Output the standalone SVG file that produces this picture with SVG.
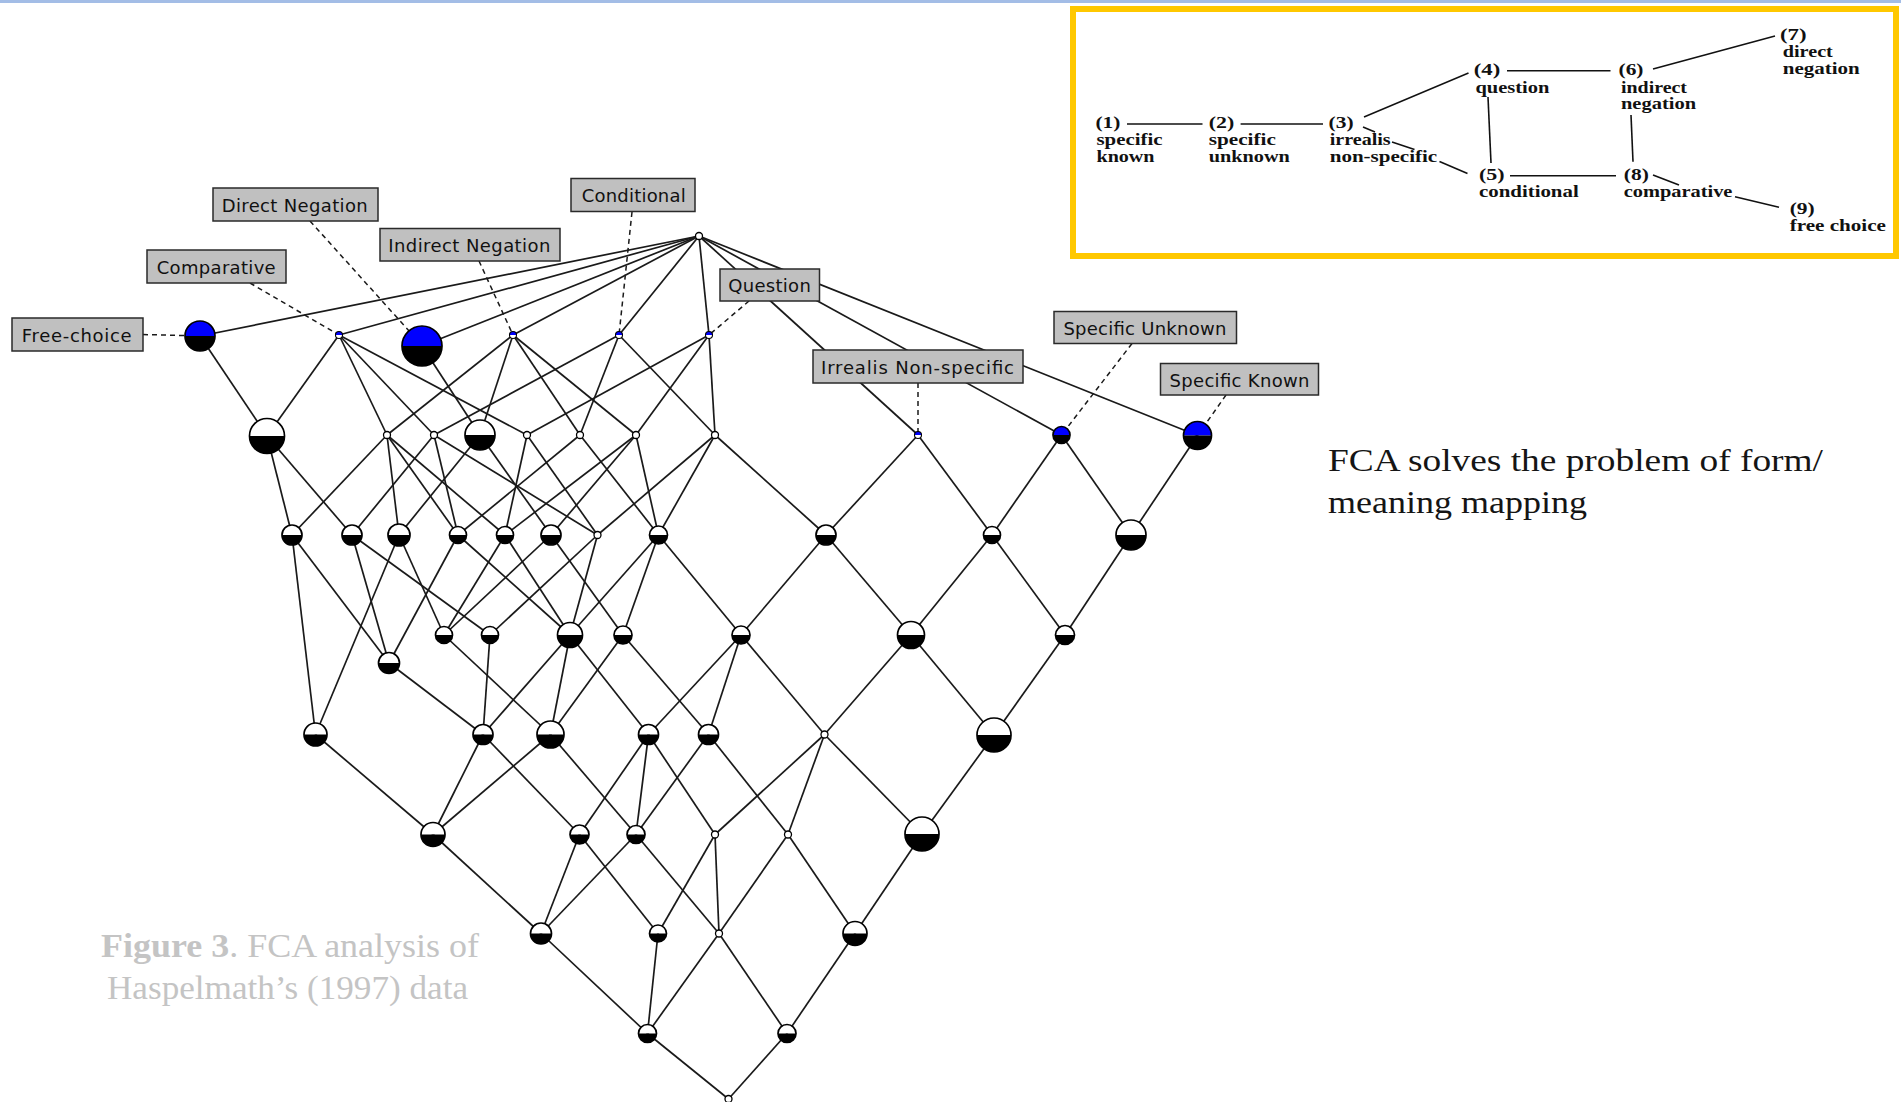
<svg xmlns="http://www.w3.org/2000/svg" width="1901" height="1102" viewBox="0 0 1901 1102">
<defs>
<style>
.e{stroke:#1a1a1a;stroke-width:1.7;fill:none}
.dl{stroke:#1a1a1a;stroke-width:1.5;stroke-dasharray:5 4;fill:none}
.lb rect{fill:#c0c0c0;stroke:#2a2a2a;stroke-width:1.5}
.lb text{font-family:"DejaVu Sans",Verdana,sans-serif;font-size:18px;fill:#111}
.w{fill:#fff}
.k{fill:#000}
.bl{fill:#0000ff}
.o{fill:none;stroke:#000;stroke-width:1.7}
.tw{fill:#fff;stroke:#000;stroke-width:1.3}
.it{font-family:"Liberation Serif","Times New Roman",serif;font-weight:bold;font-size:16px;fill:#111}
.il{stroke:#111;stroke-width:1.6;fill:none}
.cap{font-family:"Liberation Serif","Times New Roman",serif;font-size:34px;fill:#c4c4c4}
.side{font-family:"Liberation Serif","Times New Roman",serif;font-size:32px;fill:#151515}
</style>
</defs>
<rect x="0" y="0" width="1901" height="1102" fill="#fff"/>
<rect x="0" y="0" width="1901" height="3" fill="#a3bde6"/>

<g id="connectors">
<line class="e" x1="699" y1="236" x2="200" y2="336"/>
<line class="e" x1="699" y1="236" x2="339" y2="335"/>
<line class="e" x1="699" y1="236" x2="422" y2="346"/>
<line class="e" x1="699" y1="236" x2="513" y2="335"/>
<line class="e" x1="699" y1="236" x2="619" y2="335"/>
<line class="e" x1="699" y1="236" x2="709" y2="335"/>
<line class="e" x1="699" y1="236" x2="918" y2="435"/>
<line class="e" x1="699" y1="236" x2="1061.5" y2="435"/>
<line class="e" x1="699" y1="236" x2="1197.5" y2="435.5"/>
<line class="e" x1="200" y1="336" x2="267" y2="436"/>
<line class="e" x1="339" y1="335" x2="267" y2="436"/>
<line class="e" x1="339" y1="335" x2="387" y2="435"/>
<line class="e" x1="339" y1="335" x2="434" y2="435"/>
<line class="e" x1="339" y1="335" x2="527" y2="435"/>
<line class="e" x1="422" y1="346" x2="480" y2="435"/>
<line class="e" x1="513" y1="335" x2="387" y2="435"/>
<line class="e" x1="513" y1="335" x2="480" y2="435"/>
<line class="e" x1="513" y1="335" x2="580" y2="435"/>
<line class="e" x1="513" y1="335" x2="636" y2="435"/>
<line class="e" x1="619" y1="335" x2="434" y2="435"/>
<line class="e" x1="619" y1="335" x2="580" y2="435"/>
<line class="e" x1="619" y1="335" x2="715" y2="435"/>
<line class="e" x1="709" y1="335" x2="527" y2="435"/>
<line class="e" x1="709" y1="335" x2="636" y2="435"/>
<line class="e" x1="709" y1="335" x2="715" y2="435"/>
<line class="e" x1="267" y1="436" x2="292" y2="535"/>
<line class="e" x1="267" y1="436" x2="352" y2="535"/>
<line class="e" x1="387" y1="435" x2="292" y2="535"/>
<line class="e" x1="387" y1="435" x2="399" y2="535"/>
<line class="e" x1="387" y1="435" x2="458" y2="535"/>
<line class="e" x1="387" y1="435" x2="505" y2="535"/>
<line class="e" x1="434" y1="435" x2="352" y2="535"/>
<line class="e" x1="434" y1="435" x2="458" y2="535"/>
<line class="e" x1="434" y1="435" x2="597.5" y2="535"/>
<line class="e" x1="480" y1="435" x2="399" y2="535"/>
<line class="e" x1="480" y1="435" x2="551" y2="535"/>
<line class="e" x1="527" y1="435" x2="505" y2="535"/>
<line class="e" x1="527" y1="435" x2="597.5" y2="535"/>
<line class="e" x1="580" y1="435" x2="458" y2="535"/>
<line class="e" x1="580" y1="435" x2="658.5" y2="535"/>
<line class="e" x1="636" y1="435" x2="505" y2="535"/>
<line class="e" x1="636" y1="435" x2="551" y2="535"/>
<line class="e" x1="636" y1="435" x2="658.5" y2="535"/>
<line class="e" x1="715" y1="435" x2="597.5" y2="535"/>
<line class="e" x1="715" y1="435" x2="658.5" y2="535"/>
<line class="e" x1="715" y1="435" x2="826" y2="535"/>
<line class="e" x1="918" y1="435" x2="826" y2="535"/>
<line class="e" x1="918" y1="435" x2="992" y2="535"/>
<line class="e" x1="1061.5" y1="435" x2="992" y2="535"/>
<line class="e" x1="1061.5" y1="435" x2="1131" y2="535"/>
<line class="e" x1="1197.5" y1="435.5" x2="1131" y2="535"/>
<line class="e" x1="292" y1="535" x2="315.5" y2="734.5"/>
<line class="e" x1="292" y1="535" x2="389" y2="663"/>
<line class="e" x1="352" y1="535" x2="389" y2="663"/>
<line class="e" x1="352" y1="535" x2="490" y2="635"/>
<line class="e" x1="399" y1="535" x2="315.5" y2="734.5"/>
<line class="e" x1="399" y1="535" x2="444" y2="635"/>
<line class="e" x1="458" y1="535" x2="389" y2="663"/>
<line class="e" x1="458" y1="535" x2="570" y2="635"/>
<line class="e" x1="505" y1="535" x2="444" y2="635"/>
<line class="e" x1="505" y1="535" x2="570" y2="635"/>
<line class="e" x1="551" y1="535" x2="444" y2="635"/>
<line class="e" x1="551" y1="535" x2="623" y2="635"/>
<line class="e" x1="597.5" y1="535" x2="490" y2="635"/>
<line class="e" x1="597.5" y1="535" x2="570" y2="635"/>
<line class="e" x1="658.5" y1="535" x2="570" y2="635"/>
<line class="e" x1="658.5" y1="535" x2="623" y2="635"/>
<line class="e" x1="658.5" y1="535" x2="741" y2="635"/>
<line class="e" x1="826" y1="535" x2="741" y2="635"/>
<line class="e" x1="826" y1="535" x2="911" y2="635"/>
<line class="e" x1="992" y1="535" x2="911" y2="635"/>
<line class="e" x1="992" y1="535" x2="1065" y2="635"/>
<line class="e" x1="1131" y1="535" x2="1065" y2="635"/>
<line class="e" x1="389" y1="663" x2="483" y2="734.5"/>
<line class="e" x1="444" y1="635" x2="550.5" y2="734.5"/>
<line class="e" x1="490" y1="635" x2="483" y2="734.5"/>
<line class="e" x1="570" y1="635" x2="483" y2="734.5"/>
<line class="e" x1="570" y1="635" x2="550.5" y2="734.5"/>
<line class="e" x1="570" y1="635" x2="648.5" y2="734.5"/>
<line class="e" x1="623" y1="635" x2="550.5" y2="734.5"/>
<line class="e" x1="623" y1="635" x2="708.5" y2="734.5"/>
<line class="e" x1="741" y1="635" x2="648.5" y2="734.5"/>
<line class="e" x1="741" y1="635" x2="708.5" y2="734.5"/>
<line class="e" x1="741" y1="635" x2="824.5" y2="734.5"/>
<line class="e" x1="911" y1="635" x2="824.5" y2="734.5"/>
<line class="e" x1="911" y1="635" x2="994" y2="735"/>
<line class="e" x1="1065" y1="635" x2="994" y2="735"/>
<line class="e" x1="315.5" y1="734.5" x2="433" y2="834.5"/>
<line class="e" x1="483" y1="734.5" x2="433" y2="834.5"/>
<line class="e" x1="483" y1="734.5" x2="579.5" y2="834.5"/>
<line class="e" x1="550.5" y1="734.5" x2="433" y2="834.5"/>
<line class="e" x1="550.5" y1="734.5" x2="636" y2="834.5"/>
<line class="e" x1="648.5" y1="734.5" x2="579.5" y2="834.5"/>
<line class="e" x1="648.5" y1="734.5" x2="636" y2="834.5"/>
<line class="e" x1="648.5" y1="734.5" x2="715" y2="834.5"/>
<line class="e" x1="708.5" y1="734.5" x2="636" y2="834.5"/>
<line class="e" x1="708.5" y1="734.5" x2="788" y2="834.5"/>
<line class="e" x1="824.5" y1="734.5" x2="715" y2="834.5"/>
<line class="e" x1="824.5" y1="734.5" x2="788" y2="834.5"/>
<line class="e" x1="824.5" y1="734.5" x2="922" y2="834"/>
<line class="e" x1="994" y1="735" x2="922" y2="834"/>
<line class="e" x1="433" y1="834.5" x2="541" y2="933.5"/>
<line class="e" x1="579.5" y1="834.5" x2="541" y2="933.5"/>
<line class="e" x1="579.5" y1="834.5" x2="658" y2="933.5"/>
<line class="e" x1="636" y1="834.5" x2="541" y2="933.5"/>
<line class="e" x1="636" y1="834.5" x2="719" y2="933.5"/>
<line class="e" x1="715" y1="834.5" x2="658" y2="933.5"/>
<line class="e" x1="715" y1="834.5" x2="719" y2="933.5"/>
<line class="e" x1="788" y1="834.5" x2="719" y2="933.5"/>
<line class="e" x1="788" y1="834.5" x2="855" y2="933.5"/>
<line class="e" x1="922" y1="834" x2="855" y2="933.5"/>
<line class="e" x1="541" y1="933.5" x2="647.5" y2="1033.5"/>
<line class="e" x1="658" y1="933.5" x2="647.5" y2="1033.5"/>
<line class="e" x1="719" y1="933.5" x2="647.5" y2="1033.5"/>
<line class="e" x1="719" y1="933.5" x2="787" y2="1033.5"/>
<line class="e" x1="855" y1="933.5" x2="787" y2="1033.5"/>
<line class="e" x1="647.5" y1="1033.5" x2="728.5" y2="1099"/>
<line class="e" x1="787" y1="1033.5" x2="728.5" y2="1099"/>
<line class="dl" x1="143" y1="334.5" x2="200" y2="336"/>
<line class="dl" x1="250" y1="283" x2="339" y2="335"/>
<line class="dl" x1="310" y1="221" x2="410" y2="332"/>
<line class="dl" x1="479" y1="261" x2="513" y2="335"/>
<line class="dl" x1="632" y1="212" x2="619" y2="335"/>
<line class="dl" x1="749" y1="301" x2="709" y2="335"/>
<line class="dl" x1="918" y1="383" x2="918" y2="435"/>
<line class="dl" x1="1132" y1="343.5" x2="1061.5" y2="435"/>
<line class="dl" x1="1226" y1="395" x2="1197.5" y2="435.5"/>
</g>

<g id="node-T"><circle class="tw" cx="699" cy="236" r="3.5"/></g>
<g id="node-free-choice" transform="translate(200 336)"><path class="bl" d="M-15 0a15 15 0 0 1 30 0z"/><path class="k" d="M-15 0a15 15 0 0 0 30 0z"/><circle class="o" r="15"/></g>
<g id="node-comparative" transform="translate(339 335)"><path class="bl" d="M-3.5 0a3.5 3.5 0 0 1 7 0z"/><path class="w" d="M-3.5 0a3.5 3.5 0 0 0 7 0z"/><circle class="o" r="3.5" style="stroke-width:1.1"/></g>
<g id="node-direct-negation" transform="translate(422 346)"><path class="bl" d="M-20 0a20 20 0 0 1 40 0z"/><path class="k" d="M-20 0a20 20 0 0 0 40 0z"/><circle class="o" r="20"/></g>
<g id="node-indirect-negation" transform="translate(513 335)"><path class="bl" d="M-3.5 0a3.5 3.5 0 0 1 7 0z"/><path class="w" d="M-3.5 0a3.5 3.5 0 0 0 7 0z"/><circle class="o" r="3.5" style="stroke-width:1.1"/></g>
<g id="node-conditional" transform="translate(619 335)"><path class="bl" d="M-3.5 0a3.5 3.5 0 0 1 7 0z"/><path class="w" d="M-3.5 0a3.5 3.5 0 0 0 7 0z"/><circle class="o" r="3.5" style="stroke-width:1.1"/></g>
<g id="node-question" transform="translate(709 335)"><path class="bl" d="M-3.5 0a3.5 3.5 0 0 1 7 0z"/><path class="w" d="M-3.5 0a3.5 3.5 0 0 0 7 0z"/><circle class="o" r="3.5" style="stroke-width:1.1"/></g>
<g id="node-irrealis" transform="translate(918 435)"><path class="bl" d="M-3.5 0a3.5 3.5 0 0 1 7 0z"/><path class="w" d="M-3.5 0a3.5 3.5 0 0 0 7 0z"/><circle class="o" r="3.5" style="stroke-width:1.1"/></g>
<g id="node-specific-unknown" transform="translate(1061.5 435)"><path class="bl" d="M-8.5 0a8.5 8.5 0 0 1 17 0z"/><path class="k" d="M-8.5 0a8.5 8.5 0 0 0 17 0z"/><circle class="o" r="8.5"/></g>
<g id="node-specific-known" transform="translate(1197.5 435.5)"><path class="bl" d="M-14 0a14 14 0 0 1 28 0z"/><path class="k" d="M-14 0a14 14 0 0 0 28 0z"/><circle class="o" r="14"/></g>

<g id="node-A" transform="translate(267 436)"><path class="w" d="M-17.5 0a17.5 17.5 0 0 1 35 0z"/><path class="k" d="M-17.5 0a17.5 17.5 0 0 0 35 0z"/><circle class="o" r="17.5"/></g>
<g id="node-B"><circle class="tw" cx="387" cy="435" r="3.5"/></g>
<g id="node-C"><circle class="tw" cx="434" cy="435" r="3.5"/></g>
<g id="node-D" transform="translate(480 435)"><path class="w" d="M-15 0a15 15 0 0 1 30 0z"/><path class="k" d="M-15 0a15 15 0 0 0 30 0z"/><circle class="o" r="15"/></g>
<g id="node-E"><circle class="tw" cx="527" cy="435" r="3.5"/></g>
<g id="node-F"><circle class="tw" cx="580" cy="435" r="3.5"/></g>
<g id="node-G"><circle class="tw" cx="636" cy="435" r="3.5"/></g>
<g id="node-H"><circle class="tw" cx="715" cy="435" r="3.5"/></g>

<g id="node-a" transform="translate(292 535)"><path class="w" d="M-10 0a10 10 0 0 1 20 0z"/><path class="k" d="M-10 0a10 10 0 0 0 20 0z"/><circle class="o" r="10"/></g>
<g id="node-b" transform="translate(352 535)"><path class="w" d="M-10 0a10 10 0 0 1 20 0z"/><path class="k" d="M-10 0a10 10 0 0 0 20 0z"/><circle class="o" r="10"/></g>
<g id="node-c" transform="translate(399 535)"><path class="w" d="M-11 0a11 11 0 0 1 22 0z"/><path class="k" d="M-11 0a11 11 0 0 0 22 0z"/><circle class="o" r="11"/></g>
<g id="node-d" transform="translate(458 535)"><path class="w" d="M-8.5 0a8.5 8.5 0 0 1 17 0z"/><path class="k" d="M-8.5 0a8.5 8.5 0 0 0 17 0z"/><circle class="o" r="8.5"/></g>
<g id="node-e" transform="translate(505 535)"><path class="w" d="M-8.5 0a8.5 8.5 0 0 1 17 0z"/><path class="k" d="M-8.5 0a8.5 8.5 0 0 0 17 0z"/><circle class="o" r="8.5"/></g>
<g id="node-f" transform="translate(551 535)"><path class="w" d="M-10 0a10 10 0 0 1 20 0z"/><path class="k" d="M-10 0a10 10 0 0 0 20 0z"/><circle class="o" r="10"/></g>
<g id="node-g"><circle class="tw" cx="597.5" cy="535" r="3.5"/></g>
<g id="node-h" transform="translate(658.5 535)"><path class="w" d="M-9 0a9 9 0 0 1 18 0z"/><path class="k" d="M-9 0a9 9 0 0 0 18 0z"/><circle class="o" r="9"/></g>
<g id="node-i3" transform="translate(826 535)"><path class="w" d="M-10 0a10 10 0 0 1 20 0z"/><path class="k" d="M-10 0a10 10 0 0 0 20 0z"/><circle class="o" r="10"/></g>
<g id="node-j3" transform="translate(992 535)"><path class="w" d="M-8.5 0a8.5 8.5 0 0 1 17 0z"/><path class="k" d="M-8.5 0a8.5 8.5 0 0 0 17 0z"/><circle class="o" r="8.5"/></g>
<g id="node-k3" transform="translate(1131 535)"><path class="w" d="M-15 0a15 15 0 0 1 30 0z"/><path class="k" d="M-15 0a15 15 0 0 0 30 0z"/><circle class="o" r="15"/></g>

<g id="node-m" transform="translate(389 663)"><path class="w" d="M-10.5 0a10.5 10.5 0 0 1 21 0z"/><path class="k" d="M-10.5 0a10.5 10.5 0 0 0 21 0z"/><circle class="o" r="10.5"/></g>
<g id="node-i" transform="translate(444 635)"><path class="w" d="M-8.5 0a8.5 8.5 0 0 1 17 0z"/><path class="k" d="M-8.5 0a8.5 8.5 0 0 0 17 0z"/><circle class="o" r="8.5"/></g>
<g id="node-j" transform="translate(490 635)"><path class="w" d="M-8.5 0a8.5 8.5 0 0 1 17 0z"/><path class="k" d="M-8.5 0a8.5 8.5 0 0 0 17 0z"/><circle class="o" r="8.5"/></g>
<g id="node-k" transform="translate(570 635)"><path class="w" d="M-12.5 0a12.5 12.5 0 0 1 25 0z"/><path class="k" d="M-12.5 0a12.5 12.5 0 0 0 25 0z"/><circle class="o" r="12.5"/></g>
<g id="node-l" transform="translate(623 635)"><path class="w" d="M-9 0a9 9 0 0 1 18 0z"/><path class="k" d="M-9 0a9 9 0 0 0 18 0z"/><circle class="o" r="9"/></g>
<g id="node-p4" transform="translate(741 635)"><path class="w" d="M-9 0a9 9 0 0 1 18 0z"/><path class="k" d="M-9 0a9 9 0 0 0 18 0z"/><circle class="o" r="9"/></g>
<g id="node-q4" transform="translate(911 635)"><path class="w" d="M-13.5 0a13.5 13.5 0 0 1 27 0z"/><path class="k" d="M-13.5 0a13.5 13.5 0 0 0 27 0z"/><circle class="o" r="13.5"/></g>
<g id="node-r4" transform="translate(1065 635)"><path class="w" d="M-9.5 0a9.5 9.5 0 0 1 19 0z"/><path class="k" d="M-9.5 0a9.5 9.5 0 0 0 19 0z"/><circle class="o" r="9.5"/></g>

<g id="node-n" transform="translate(315.5 734.5)"><path class="w" d="M-11.5 0a11.5 11.5 0 0 1 23 0z"/><path class="k" d="M-11.5 0a11.5 11.5 0 0 0 23 0z"/><circle class="o" r="11.5"/></g>
<g id="node-o" transform="translate(483 734.5)"><path class="w" d="M-10 0a10 10 0 0 1 20 0z"/><path class="k" d="M-10 0a10 10 0 0 0 20 0z"/><circle class="o" r="10"/></g>
<g id="node-p" transform="translate(550.5 734.5)"><path class="w" d="M-13.5 0a13.5 13.5 0 0 1 27 0z"/><path class="k" d="M-13.5 0a13.5 13.5 0 0 0 27 0z"/><circle class="o" r="13.5"/></g>
<g id="node-q" transform="translate(648.5 734.5)"><path class="w" d="M-10 0a10 10 0 0 1 20 0z"/><path class="k" d="M-10 0a10 10 0 0 0 20 0z"/><circle class="o" r="10"/></g>
<g id="node-r" transform="translate(708.5 734.5)"><path class="w" d="M-10 0a10 10 0 0 1 20 0z"/><path class="k" d="M-10 0a10 10 0 0 0 20 0z"/><circle class="o" r="10"/></g>
<g id="node-s5"><circle class="tw" cx="824.5" cy="734.5" r="3.5"/></g>
<g id="node-t5" transform="translate(994 735)"><path class="w" d="M-17 0a17 17 0 0 1 34 0z"/><path class="k" d="M-17 0a17 17 0 0 0 34 0z"/><circle class="o" r="17"/></g>

<g id="node-u" transform="translate(433 834.5)"><path class="w" d="M-12 0a12 12 0 0 1 24 0z"/><path class="k" d="M-12 0a12 12 0 0 0 24 0z"/><circle class="o" r="12"/></g>
<g id="node-v" transform="translate(579.5 834.5)"><path class="w" d="M-9.5 0a9.5 9.5 0 0 1 19 0z"/><path class="k" d="M-9.5 0a9.5 9.5 0 0 0 19 0z"/><circle class="o" r="9.5"/></g>
<g id="node-w" transform="translate(636 834.5)"><path class="w" d="M-9 0a9 9 0 0 1 18 0z"/><path class="k" d="M-9 0a9 9 0 0 0 18 0z"/><circle class="o" r="9"/></g>
<g id="node-x6"><circle class="tw" cx="715" cy="834.5" r="3.5"/></g>
<g id="node-y6"><circle class="tw" cx="788" cy="834.5" r="3.5"/></g>
<g id="node-z6" transform="translate(922 834)"><path class="w" d="M-17 0a17 17 0 0 1 34 0z"/><path class="k" d="M-17 0a17 17 0 0 0 34 0z"/><circle class="o" r="17"/></g>

<g id="node-L7a" transform="translate(541 933.5)"><path class="w" d="M-10.5 0a10.5 10.5 0 0 1 21 0z"/><path class="k" d="M-10.5 0a10.5 10.5 0 0 0 21 0z"/><circle class="o" r="10.5"/></g>
<g id="node-L7b" transform="translate(658 933.5)"><path class="w" d="M-8.5 0a8.5 8.5 0 0 1 17 0z"/><path class="k" d="M-8.5 0a8.5 8.5 0 0 0 17 0z"/><circle class="o" r="8.5"/></g>
<g id="node-L7c"><circle class="tw" cx="719" cy="933.5" r="3.5"/></g>
<g id="node-L7d" transform="translate(855 933.5)"><path class="w" d="M-12 0a12 12 0 0 1 24 0z"/><path class="k" d="M-12 0a12 12 0 0 0 24 0z"/><circle class="o" r="12"/></g>
<g id="node-L8a" transform="translate(647.5 1033.5)"><path class="w" d="M-9 0a9 9 0 0 1 18 0z"/><path class="k" d="M-9 0a9 9 0 0 0 18 0z"/><circle class="o" r="9"/></g>
<g id="node-L8b" transform="translate(787 1033.5)"><path class="w" d="M-9 0a9 9 0 0 1 18 0z"/><path class="k" d="M-9 0a9 9 0 0 0 18 0z"/><circle class="o" r="9"/></g>
<g id="node-bottom"><circle class="tw" cx="728.5" cy="1099" r="3.5"/></g>

<g id="label-free-choice" class="lb"><rect x="12" y="318" width="131" height="33"/><text x="21.7" y="341.5" textLength="110">Free-choice</text></g>
<g id="label-comparative" class="lb"><rect x="147" y="250" width="139" height="33"/><text x="156.7" y="273.5" textLength="119">Comparative</text></g>
<g id="label-direct-negation" class="lb"><rect x="213" y="188" width="165" height="33"/><text x="221.7" y="211.5" textLength="146">Direct Negation</text></g>
<g id="label-indirect-negation" class="lb"><rect x="380" y="228.5" width="180" height="32.5"/><text x="388.3" y="251.5" textLength="162">Indirect Negation</text></g>
<g id="label-conditional" class="lb"><rect x="571" y="178.5" width="124" height="33"/><text x="581.7" y="202" textLength="104">Conditional</text></g>
<g id="label-question" class="lb"><rect x="720" y="269" width="99.5" height="32"/><text x="728.3" y="292" textLength="82.5">Question</text></g>
<g id="label-irrealis" class="lb"><rect x="813" y="350" width="210" height="33"/><text x="821" y="373.5" textLength="193">Irrealis Non-specific</text></g>
<g id="label-specific-unknown" class="lb"><rect x="1054" y="311.5" width="182.5" height="32"/><text x="1063.4" y="334.5" textLength="163">Specific Unknown</text></g>
<g id="label-specific-known" class="lb"><rect x="1160.5" y="363.5" width="158" height="31.5"/><text x="1169.5" y="386.5" textLength="140">Specific Known</text></g>

<g id="inset">
<rect x="1073" y="9" width="823" height="247" fill="#fff" stroke="#ffc800" stroke-width="6"/>
<line class="il" x1="1127" y1="124" x2="1202.5" y2="124"/>
<line class="il" x1="1240.6" y1="124" x2="1323" y2="124"/>
<line class="il" x1="1364" y1="117" x2="1468.5" y2="73"/>
<line class="il" x1="1507" y1="70.7" x2="1610.5" y2="70.7"/>
<line class="il" x1="1653" y1="69" x2="1775" y2="36"/>
<line class="il" x1="1488" y1="97" x2="1491" y2="163"/>
<line class="il" x1="1631" y1="115" x2="1633" y2="161.7"/>
<line class="il" x1="1363" y1="127" x2="1375" y2="132"/>
<line class="il" x1="1392" y1="142" x2="1414.5" y2="149.5"/>
<line class="il" x1="1439.5" y1="161.5" x2="1467.5" y2="173.5"/>
<line class="il" x1="1510" y1="175.7" x2="1616" y2="175.7"/>
<line class="il" x1="1653" y1="175" x2="1679" y2="185"/>
<line class="il" x1="1735" y1="196.7" x2="1779" y2="207.3"/>
<text class="it" x="1780" y="40" textLength="26.6" lengthAdjust="spacingAndGlyphs">(7)</text>
<text class="it" x="1782.8" y="57" textLength="50" lengthAdjust="spacingAndGlyphs">direct</text>
<text class="it" x="1782.8" y="74" textLength="77" lengthAdjust="spacingAndGlyphs">negation</text>
<text class="it" x="1473.8" y="75" textLength="26.5" lengthAdjust="spacingAndGlyphs">(4)</text>
<text class="it" x="1618.5" y="75" textLength="25" lengthAdjust="spacingAndGlyphs">(6)</text>
<text class="it" x="1475.4" y="92.5" textLength="74" lengthAdjust="spacingAndGlyphs">question</text>
<text class="it" x="1621" y="92.5" textLength="66" lengthAdjust="spacingAndGlyphs">indirect</text>
<text class="it" x="1621" y="109" textLength="75" lengthAdjust="spacingAndGlyphs">negation</text>
<text class="it" x="1095.4" y="128" textLength="25" lengthAdjust="spacingAndGlyphs">(1)</text>
<text class="it" x="1208.8" y="128" textLength="25.5" lengthAdjust="spacingAndGlyphs">(2)</text>
<text class="it" x="1328.6" y="128" textLength="25" lengthAdjust="spacingAndGlyphs">(3)</text>
<text class="it" x="1096.5" y="144.5" textLength="66" lengthAdjust="spacingAndGlyphs">specific</text>
<text class="it" x="1208.8" y="144.5" textLength="67" lengthAdjust="spacingAndGlyphs">specific</text>
<text class="it" x="1329.7" y="144.5" textLength="61" lengthAdjust="spacingAndGlyphs">irrealis</text>
<text class="it" x="1096.5" y="161.5" textLength="58" lengthAdjust="spacingAndGlyphs">known</text>
<text class="it" x="1208.8" y="161.5" textLength="81" lengthAdjust="spacingAndGlyphs">unknown</text>
<text class="it" x="1329.7" y="161.5" textLength="107.5" lengthAdjust="spacingAndGlyphs">non-specific</text>
<text class="it" x="1479" y="180" textLength="25.6" lengthAdjust="spacingAndGlyphs">(5)</text>
<text class="it" x="1623.8" y="180" textLength="25" lengthAdjust="spacingAndGlyphs">(8)</text>
<text class="it" x="1479" y="196.5" textLength="99.7" lengthAdjust="spacingAndGlyphs">conditional</text>
<text class="it" x="1623.8" y="196.5" textLength="108.6" lengthAdjust="spacingAndGlyphs">comparative</text>
<text class="it" x="1789.7" y="214" textLength="25" lengthAdjust="spacingAndGlyphs">(9)</text>
<text class="it" x="1789.7" y="230.5" textLength="96.3" lengthAdjust="spacingAndGlyphs">free choice</text>
</g>

<g id="side-text">
<text class="side" x="1328" y="471" textLength="495" lengthAdjust="spacingAndGlyphs">FCA solves the problem of  form/</text>
<text class="side" x="1328" y="513" textLength="259" lengthAdjust="spacingAndGlyphs">meaning mapping</text>
</g>
<g id="caption">
<text class="cap" x="101" y="957" textLength="378" lengthAdjust="spacingAndGlyphs"><tspan font-weight="bold">Figure 3</tspan>. FCA analysis of</text>
<text class="cap" x="107" y="999" textLength="361" lengthAdjust="spacingAndGlyphs">Haspelmath’s (1997) data</text>
</g>
</svg>
